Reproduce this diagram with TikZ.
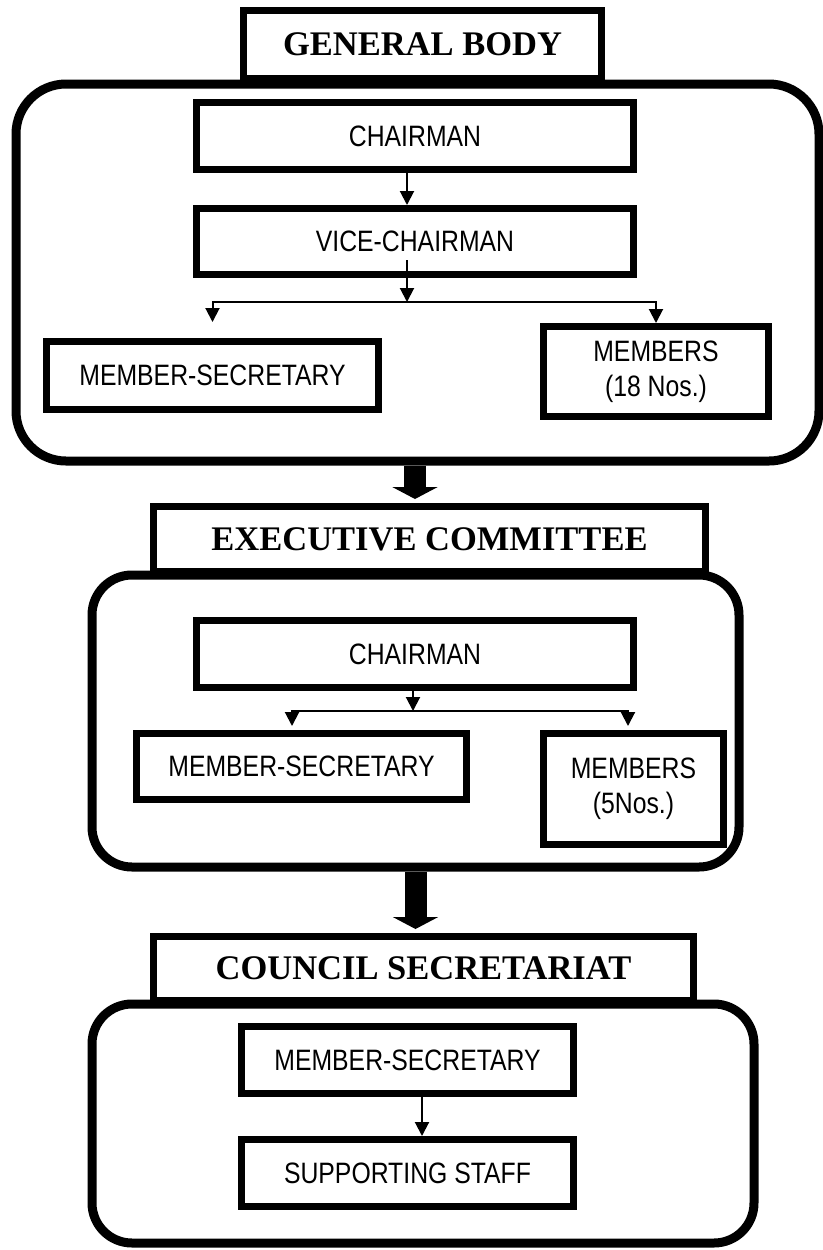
\documentclass[tikz,border=0pt]{standalone}
\usepackage{fontspec}
\setmainfont{Liberation Serif}
\setsansfont{Liberation Sans}[FakeStretch=0.84]
\usetikzlibrary{arrows.meta}

\tikzset{
  headbox/.style={draw, line width=3.5pt, fill=white, inner sep=0pt,
    font=\fontsize{17.25}{20}\selectfont\bfseries},
  postbox/.style={draw, line width=3.5pt, fill=white, inner sep=0pt, align=center,
    font=\sffamily\fontsize{14.75}{17.5}\selectfont},
  bodyframe/.style={draw, line width=4.5pt, rounded corners=20pt, inner sep=0pt},
  link/.style={line width=1pt, -{Triangle[length=7pt,width=7pt]}},
  bigarrow/.style={line width=11pt, -{Triangle[length=6pt,width=22.5pt]}}
}

\begin{document}
\begin{tikzpicture}[x=0.5pt,y=-0.5pt]
\useasboundingbox (0,0) rectangle (823,1250);

% general body
\node[bodyframe, rounded corners=25pt, minimum width=401.5pt, minimum height=188.5pt] (gbframe) at (417.5,272.5) {};
\node[headbox, minimum width=179pt, minimum height=34pt] (gb) at (422.5,44.5) {GENERAL BODY};
\node[postbox, minimum width=218.5pt, minimum height=33.5pt] (ch1) at (415,136) {CHAIRMAN};
\node[postbox, minimum width=218.5pt, minimum height=33pt] (vice) at (415,241.5) {VICE-CHAIRMAN};
\node[postbox, minimum width=166pt, minimum height=34pt] (ms1) at (212.5,375.5) {MEMBER-SECRETARY};
\node[postbox, minimum width=112.5pt, minimum height=45pt] (mem1) at (656,371.5) {MEMBERS\\(18 Nos.)};
\coordinate (gbfork) at (407,302);

\draw[link] ([xshift=-4pt]ch1.south) -- ([xshift=-4pt]vice.north);
\draw[link] ([xshift=-4pt,yshift=9pt]vice.south) -- (gbfork);
\draw[link] (gbfork) -| ([yshift=8pt]ms1.north);
\draw[link] (gbfork) -| (mem1.north);

% executive committee
\node[bodyframe, minimum width=323.5pt, minimum height=146pt] (ecframe) at (415.5,721) {};
\node[headbox, minimum width=276pt, minimum height=32.5pt] (ec) at (429.5,539) {EXECUTIVE COMMITTEE};
\node[postbox, minimum width=218.5pt, minimum height=33.5pt] (ch2) at (415,654) {CHAIRMAN};
\node[postbox, minimum width=165pt, minimum height=33pt] (ms2) at (301.5,766.5) {MEMBER-SECRETARY};
\node[postbox, minimum width=90pt, minimum height=55.5pt] (mem2) at (633.5,789) {MEMBERS\\(5Nos.)};
\coordinate (ecfork) at (413,711);

\draw[link] ([xshift=-1pt]ch2.south) -- (ecfork);
\draw[link] (ecfork) -| ([xshift=-4.75pt,yshift=2pt]ms2.north);
\draw[link] (ecfork) -| ([xshift=-2.75pt,yshift=2pt]mem2.north);

% council secretariat
\node[bodyframe, minimum width=331pt, minimum height=119.5pt] (csframe) at (423,1123.5) {};
\node[headbox, minimum width=270pt, minimum height=32pt] (cs) at (423.5,968.5) {COUNCIL SECRETARIAT};
\node[postbox, minimum width=166pt, minimum height=33.5pt] (ms3) at (407.5,1060) {MEMBER-SECRETARY};
\node[postbox, minimum width=166pt, minimum height=33.5pt] (staff) at (407.5,1173) {SUPPORTING STAFF};

\draw[link] ([xshift=7.25pt]ms3.south) -- ([xshift=7.25pt]staff.north);

% between the bodies
\draw[bigarrow] (gbframe.south -| ch1) -- ([yshift=2pt]ec.north -| ch1);
\draw[bigarrow] (ecframe.south) -- ([yshift=2pt]cs.north -| ecframe.south);
\end{tikzpicture}
\end{document}
